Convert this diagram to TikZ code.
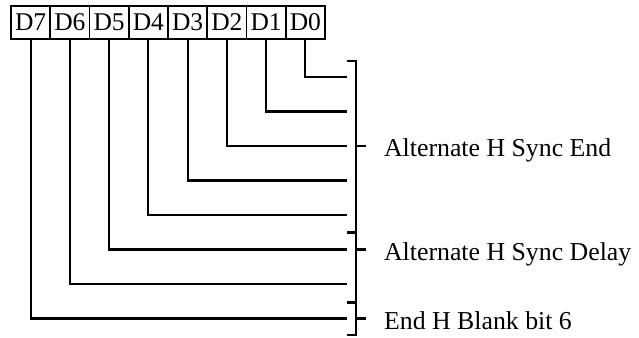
\documentclass[tikz,border=0pt]{standalone}
\usepackage{fontspec}
\setmainfont{Liberation Serif}
\begin{document}
\begin{tikzpicture}[x=1pt,y=-1pt,line width=2.2pt,
  bitbox/.style={draw, line width=1.9pt, minimum width=39.25pt, minimum height=33pt, inner sep=0pt, font=\fontsize{25.5}{29}\selectfont},
  lbl/.style={anchor=base west, inner sep=0pt, font=\fontsize{25.8}{29}\selectfont},
  wire/.style={line width=2.2pt}]
\useasboundingbox (0,0) rectangle (639,337);
% bit boxes
\foreach \k/\b in {0/7,1/6,2/5,3/4,4/3,5/2,6/1,7/0}{
  \node[bitbox] (b\b) at ({11+39.25*(\k+0.5)},22.5) {D\b};
}
% wire end points
\foreach \b in {0,...,7}{
  \coordinate (e\b) at (346.7,{77+34.5*\b});
}
\foreach \b in {0,...,7}{
  \draw[wire] (b\b.south) |- (e\b);
}
% bracket
\coordinate (bt) at (356,61);
\coordinate (bb) at (356,335);
\draw[wire] (346.7,61) -- (bt) -- (bb) -- (346.7,335);
\coordinate (s1) at (356,232.5);
\coordinate (s2) at (356,302.5);
\draw[wire] (s1) -- +(-9.3,0);
\draw[wire] (s2) -- +(-9.3,0);
% label ticks
\coordinate (t1) at (356,{77+34.5*2});
\coordinate (t2) at (356,{77+34.5*5});
\coordinate (t3) at (356,{77+34.5*7});
\foreach \t in {t1,t2,t3}{
  \draw[wire] (\t) -- +(10,0);
}
\node[lbl] (l1) at (383,{77+34.5*2+10.5}) {Alternate H Sync End};
\node[lbl] (l2) at (383,{77+34.5*5+10.5}) {Alternate H Sync Delay};
\node[lbl] (l3) at (383,{77+34.5*7+10.5}) {End H Blank bit 6};
\end{tikzpicture}
\end{document}
